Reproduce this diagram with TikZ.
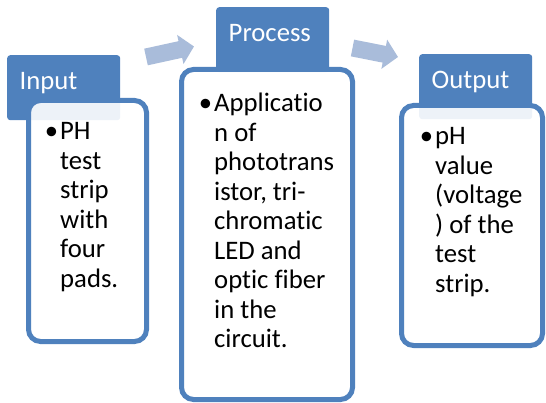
\documentclass[tikz,border=0pt]{standalone}
\usepackage{fontspec}
\setmainfont{Carlito}[Ligatures=NoCommon]
\usetikzlibrary{arrows.meta}
\definecolor{hdblue}{HTML}{4F81BD}
\definecolor{arrblue}{HTML}{A9BCDA}
\newcommand{\boxtext}[1]{\parbox[t]{150pt}{\raggedright\fontsize{26.7}{29.5}\selectfont\leavevmode\llap{\textbullet\hspace{2pt}}#1}}

\begin{document}
\begin{tikzpicture}[x=1pt,y=-1pt]
		\tikzstyle{headbox} = [rectangle, rounded corners=3pt, anchor=north west, fill=hdblue, text=white, text width=88pt, inner xsep=12.5pt, inner ysep=0pt, text height=34pt, text depth=31pt, align=left, font=\fontsize{26.7}{30}\selectfont];
		\tikzstyle{bodybox} = [rectangle, rounded corners=12pt, anchor=north west, draw=hdblue, line width=5pt, fill=white, fill opacity=0.9, inner sep=0pt, outer sep=0pt];
		\tikzstyle{bodytext} = [anchor=base west, inner sep=0pt];
		\tikzstyle{flowarrow} = [line width=17pt, arrblue, -{Triangle[width=29pt, length=14pt]}];
		\useasboundingbox (0,0) rectangle (546,403);
		\node (inhead) [headbox] at (7,55) {Input};
		\node (prochead) [headbox] at (216,7) {Process};
		\node (outhead) [headbox] at (419,54) {Output};
		\node (inbox) [bodybox, minimum width=118pt, minimum height=241pt] at (28.5,100.5) {};
		\node (procbox) [bodybox, minimum width=171pt, minimum height=330pt] at (181.5,69.5) {};
		\node (outbox) [bodybox, minimum width=141pt, minimum height=240pt] at (401.5,105.5) {};
		\node (intext) [bodytext] at (60,140) {\boxtext{PH\\test\\strip\\with\\four\\pads.}};
		\node (proctext) [bodytext] at (214,112) {\boxtext{Applicatio\\n of\\phototrans\\istor, tri-\\chromatic\\LED and\\optic fiber\\in the\\circuit.}};
		\node (outtext) [bodytext] at (435,145) {\boxtext{pH\\value\\(voltage\\) of the\\test\\strip.}};
		\coordinate (arr1s) at (146,57);
		\coordinate (arr1e) at (194,46.5);
		\coordinate (arr2s) at (352.5,48);
		\coordinate (arr2e) at (398,57);
		\draw[flowarrow] (arr1s) -- (arr1e);
		\draw[flowarrow] (arr2s) -- (arr2e);
	\end{tikzpicture}
\end{document}
